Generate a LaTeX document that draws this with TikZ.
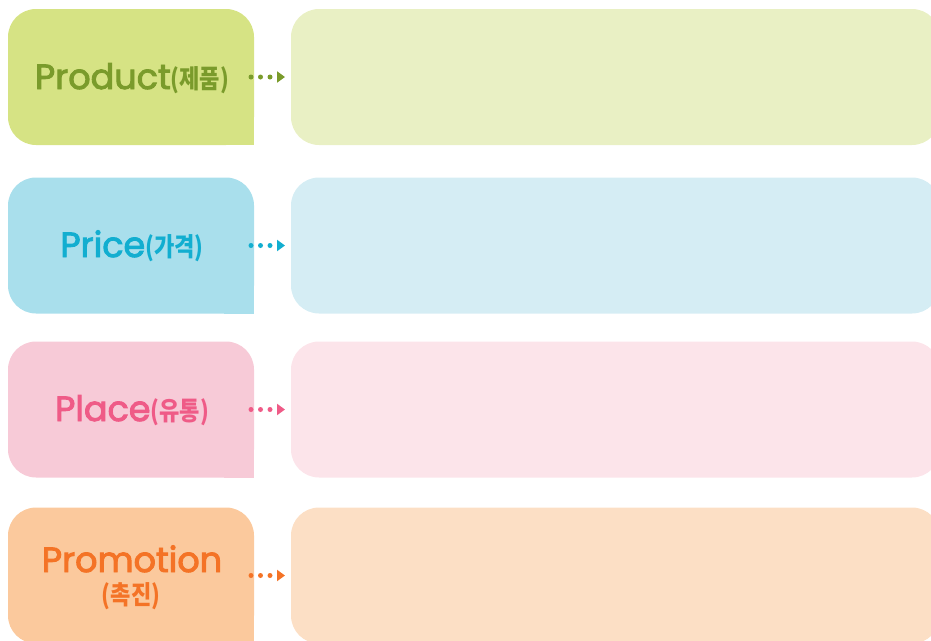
\documentclass[tikz,border=0pt]{standalone}
\usepackage{fontspec}
\setmainfont{Poppins}[FakeBold=2.6]
\newfontfamily\kr{Noto Sans CJK KR}[FakeStretch=0.85]
\usetikzlibrary{arrows.meta}
\definecolor{gL}{HTML}{D6E384}\definecolor{gR}{HTML}{E9F0C4}\definecolor{gT}{HTML}{7A9B2B}
\definecolor{bL}{HTML}{A9DFEC}\definecolor{bR}{HTML}{D5EDF4}\definecolor{bT}{HTML}{12AED0}
\definecolor{pL}{HTML}{F7CAD7}\definecolor{pR}{HTML}{FCE4EA}\definecolor{pT}{HTML}{EF5B87}
\definecolor{oL}{HTML}{FBC99D}\definecolor{oR}{HTML}{FCDFC5}\definecolor{oT}{HTML}{F47326}
\newcommand{\kor}[1]{{\kr\bfseries\fontsize{26}{29}\selectfont\raisebox{0.5pt}{#1}}}
\begin{document}
\begin{tikzpicture}[x=1pt,y=-1pt,
  box/.style={inner sep=0pt, outer sep=0pt, rounded corners=28pt, minimum height=136pt},
  lbox/.style={box, minimum width=246pt},
  rbox/.style={box, minimum width=649pt},
  conn/.style={line width=5pt, line cap=round, dash pattern=on 0pt off 9.5pt,
    -{Triangle[length=8pt,width=11pt,line cap=butt,sep=0pt]}},
  lab/.style={anchor=base, inner sep=0pt, font=\fontsize{35}{40}\selectfont}]
\useasboundingbox (0,0) rectangle (931,640);
\clip (0,0) rectangle (931,640);
% row 1
\node[lbox, fill=gL] (L1) at (131,77) {};
\fill[gL] (L1.south east) rectangle ++(-30,-30);
\node[rbox, fill=gR] (R1) at (615.5,77) {};
\draw[conn, gT] ([xshift=-3pt]L1.east) -- ([xshift=-6pt]R1.west);
\node[lab, text=gT] (t1) at (132,89) {Product\kor{(제품)}};
% row 2
\node[lbox, fill=bL] (L2) at (131,245.5) {};
\fill[bL] (L2.south east) rectangle ++(-30,-30);
\node[rbox, fill=bR] (R2) at (615.5,245.5) {};
\draw[conn, bT] ([xshift=-3pt]L2.east) -- ([xshift=-6pt]R2.west);
\node[lab, text=bT] (t2) at (132,257) {Price\kor{(가격)}};
% row 3
\node[lbox, fill=pL] (L3) at (131,409.5) {};
\fill[pL] (L3.south east) rectangle ++(-30,-30);
\node[rbox, fill=pR] (R3) at (615.5,409.5) {};
\draw[conn, pT] ([xshift=-3pt]L3.east) -- ([xshift=-6pt]R3.west);
\node[lab, text=pT] (t3) at (132,421) {Place\kor{(유통)}};
% row 4
\node[lbox, fill=oL] (L4) at (131,575.5) {};
\fill[oL] (L4.south east) rectangle ++(-30,-30);
\node[rbox, fill=oR] (R4) at (615.5,575.5) {};
\draw[conn, oT] ([xshift=-3pt]L4.east) -- ([xshift=-6pt]R4.west);
\node[lab, text=oT, text depth=0pt] (t4) at (132,572) {Promotion};
\node[lab, text=oT, text height=17pt] (t4k) at (131,605) {\kor{(촉진)}};
\end{tikzpicture}
\end{document}
